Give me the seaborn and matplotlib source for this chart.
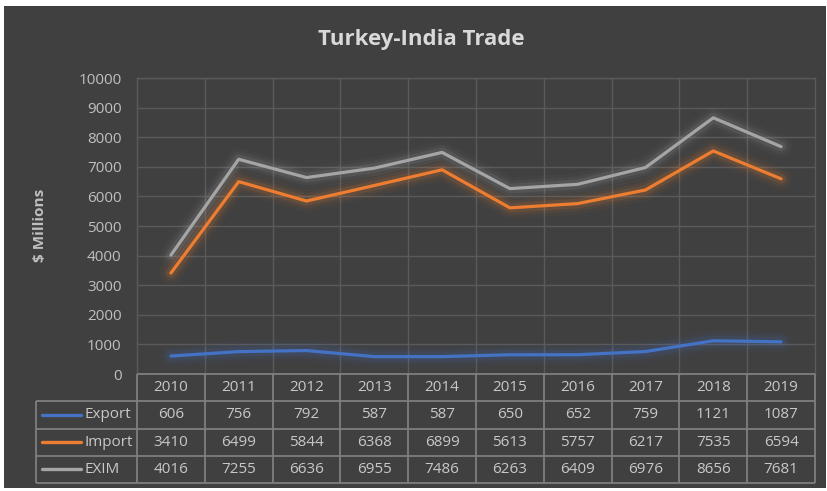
import matplotlib
matplotlib.use("Agg")
import matplotlib.pyplot as plt
import matplotlib.patheffects as pe
from matplotlib.patches import Rectangle
import seaborn as sns
import pandas as pd

# ---- data ----
years = ["2010", "2011", "2012", "2013", "2014", "2015", "2016", "2017", "2018", "2019"]
export = [606, 756, 792, 587, 587, 650, 652, 759, 1121, 1087]
imports = [3410, 6499, 5844, 6368, 6899, 5613, 5757, 6217, 7535, 6594]
exim = [4016, 7255, 6636, 6955, 7486, 6263, 6409, 6976, 8656, 7681]
series_names = ["Export", "Import", "EXIM"]
series_colors = ["#4472C4", "#ED7D31", "#A5A5A5"]
y_ticks = [0, 1000, 2000, 3000, 4000, 5000, 6000, 7000, 8000, 9000, 10000]

sns.set_theme(style="dark")
plt.rcParams['font.family'] = ['Open Sans', 'DejaVu Sans']

W, H = 828, 491
fig = plt.figure(figsize=(W / 100, H / 100), dpi=100, facecolor="white")
fig.patches.append(Rectangle((4 / W, 1 - 488 / H), 822 / W, 482 / H,
                             transform=fig.transFigure, facecolor="#404040",
                             edgecolor="none", zorder=-10))

ax_l, ax_r, ax_t, ax_b = 137, 815, 78, 374
ax = fig.add_axes([ax_l / W, 1 - ax_b / H, (ax_r - ax_l) / W, (ax_b - ax_t) / H])
ax.set_facecolor("none")
axw, axh = ax_r - ax_l, ax_b - ax_t


def px(x):
    return (x - ax_l) / axw


def py(y):
    return (ax_b - y) / axh


rows = []
for name, vals in zip(series_names, [export, imports, exim]):
    for i, v in enumerate(vals):
        rows.append({"idx": i, "value": v, "series": name})
df = pd.DataFrame(rows)

sns.lineplot(data=df, x="idx", y="value", hue="series", hue_order=series_names,
             palette=dict(zip(series_names, series_colors)), linewidth=2.3,
             legend=False, ax=ax, zorder=3)
for line, c in zip(ax.get_lines(), series_colors):
    line.set_path_effects([
        pe.Stroke(linewidth=16, foreground=c, alpha=0.04),
        pe.Stroke(linewidth=11, foreground=c, alpha=0.07),
        pe.Stroke(linewidth=7, foreground=c, alpha=0.13),
        pe.Normal(),
    ])
    line.set_solid_capstyle("round")

ax.set_xlim(-0.5, len(years) - 0.5)
ax.set_ylim(0, 10000)
ax.set_yticks(y_ticks)
ax.set_yticklabels([str(t) for t in y_ticks])
ax.set_xticks([i + 0.5 for i in range(len(years) - 1)])
ax.set_xticklabels([])
ax.set_xlabel("")
grid_c = "#5a5a5a"
for name, s in ax.spines.items():
    if name == "bottom":
        s.set_visible(False)
    else:
        s.set_visible(True)
        s.set_color(grid_c)
        s.set_linewidth(1.0)
ax.grid(True, color=grid_c, linewidth=1.0)
ax.set_axisbelow(True)
ax.tick_params(axis="y", length=0, pad=11, labelsize=11, labelcolor="#bfbfbf")
ax.tick_params(axis="x", length=0)

ax.set_ylabel("\\$ Millions", color="#bfbfbf", fontsize=11, fontweight="bold")
ax.yaxis.set_label_coords(px(47), py(225))

fig.text(421 / W, 1 - 40 / H, "Turkey-India Trade", ha="center", va="center",
         fontsize=16, fontweight="bold", color="#d9d9d9")

# ---- data table (drawn below the axes) ----
edge = "#7f7f7f"
txtc = "#c8c8c8"
tbl_left, tbl_top, tbl_bottom = 36, 374, 483
row_h = (tbl_bottom - tbl_top) / 4
col_w = axw / len(years)
lkw = dict(color=edge, linewidth=1.3, transform=ax.transAxes, clip_on=False,
           solid_capstyle="butt", zorder=4)

# horizontal lines
ax.plot([px(ax_l), px(ax_r)], [py(tbl_top)] * 2, **lkw)
for r in range(1, 5):
    yy = tbl_top + r * row_h
    ax.plot([px(tbl_left), px(ax_r)], [py(yy)] * 2, **lkw)
# vertical lines
ax.plot([px(tbl_left)] * 2, [py(tbl_top + row_h), py(tbl_bottom)], **lkw)
for j in range(len(years) + 1):
    xx = ax_l + j * col_w
    ax.plot([px(xx)] * 2, [py(tbl_top), py(tbl_bottom)], **lkw)

tkw = dict(transform=ax.transAxes, color=txtc, fontsize=11, va="center",
           clip_on=False)
for j, yr in enumerate(years):
    ax.text(px(ax_l + (j + 0.5) * col_w), py(tbl_top + 0.5 * row_h), yr,
            ha="center", **tkw)
for i, (name, vals, c) in enumerate(zip(series_names, [export, imports, exim],
                                       series_colors), start=1):
    yc = py(tbl_top + (i + 0.5) * row_h)
    ax.text(px(84), yc, name, ha="left", **tkw)
    ax.plot([px(42), px(81)], [yc, yc], color=c, linewidth=2.4,
            transform=ax.transAxes, clip_on=False, solid_capstyle="round")
    for j, v in enumerate(vals):
        ax.text(px(ax_l + (j + 0.5) * col_w), yc, str(v), ha="center", **tkw)

fig.savefig("out.png", dpi=100, facecolor=fig.get_facecolor())
